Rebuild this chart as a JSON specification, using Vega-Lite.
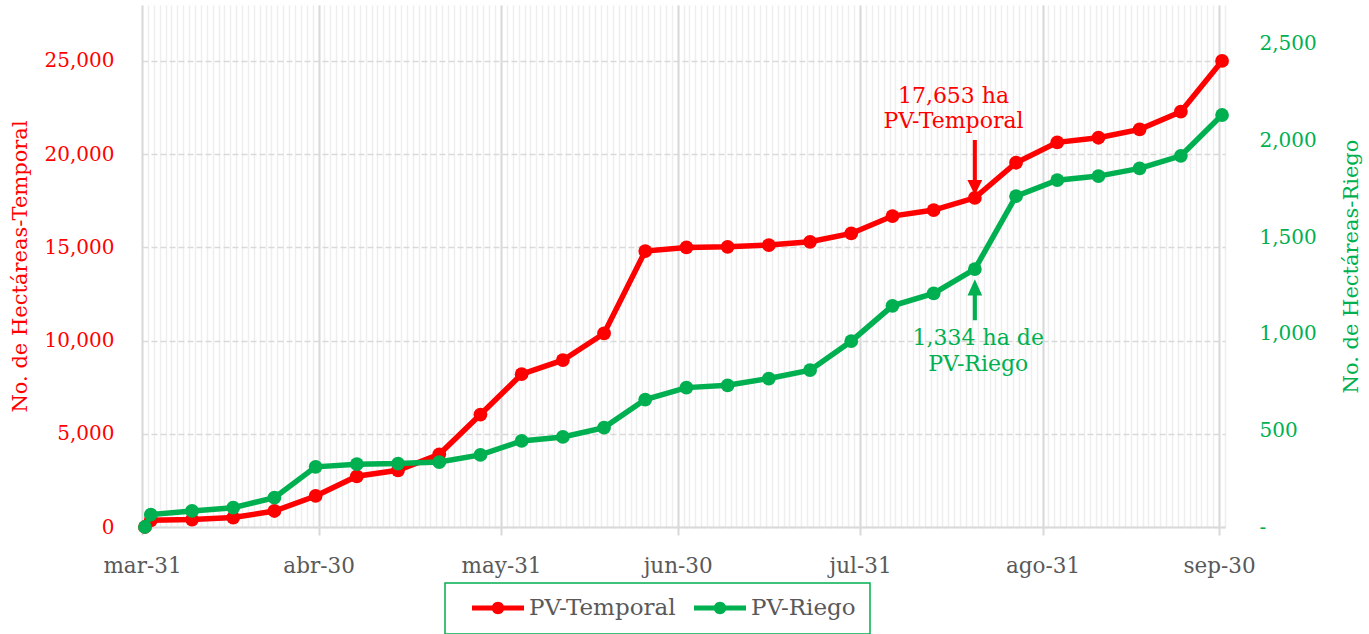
{
  "$schema": "https://vega.github.io/schema/vega-lite/v6.json",
  "width": 1083,
  "height": 522,
  "autosize": {"type": "none"},
  "padding": {"left": 142, "top": 5, "right": 144, "bottom": 107},
  "config": {
    "font": "DejaVu Serif",
    "view": {"stroke": null},
    "legend": {
      "symbolType": "M-1,-0.1 L1,-0.1 L1,0.1 L-1,0.1 Z M-0.24,0 A0.24,0.24 0 1,1 0.24,0 A0.24,0.24 0 1,1 -0.24,0 Z",
      "symbolSize": 2704,
      "symbolStrokeWidth": 0,
      "symbolOpacity": 1,
      "symbolOffset": 13,
      "clipHeight": 22,
      "labelFont": "DejaVu Serif",
      "labelFontSize": 23,
      "labelColor": "#595959",
      "labelOffset": 5,
      "columnPadding": 5,
      "padding": 14,
      "strokeColor": "#00b050",
      "strokeWidth": 1.5
    }
  },
  "data": {
    "values": [
      {"date": "2020-03-31T12:00:00", "temporal": 0, "riego": 0},
      {"date": "2020-04-01T12:00:00", "temporal": 360, "riego": 64},
      {"date": "2020-04-08T12:00:00", "temporal": 397, "riego": 83},
      {"date": "2020-04-15T12:00:00", "temporal": 505, "riego": 100},
      {"date": "2020-04-22T12:00:00", "temporal": 859, "riego": 152},
      {"date": "2020-04-29T12:00:00", "temporal": 1664, "riego": 311},
      {"date": "2020-05-06T12:00:00", "temporal": 2721, "riego": 325},
      {"date": "2020-05-13T12:00:00", "temporal": 3043, "riego": 328},
      {"date": "2020-05-20T12:00:00", "temporal": 3900, "riego": 336},
      {"date": "2020-05-27T12:00:00", "temporal": 6033, "riego": 373},
      {"date": "2020-06-03T12:00:00", "temporal": 8196, "riego": 445},
      {"date": "2020-06-10T12:00:00", "temporal": 8948, "riego": 466},
      {"date": "2020-06-17T12:00:00", "temporal": 10381, "riego": 514},
      {"date": "2020-06-24T12:00:00", "temporal": 14799, "riego": 659},
      {"date": "2020-07-01T12:00:00", "temporal": 14997, "riego": 721},
      {"date": "2020-07-08T12:00:00", "temporal": 15030, "riego": 733},
      {"date": "2020-07-15T12:00:00", "temporal": 15121, "riego": 768},
      {"date": "2020-07-22T12:00:00", "temporal": 15298, "riego": 811},
      {"date": "2020-07-29T12:00:00", "temporal": 15748, "riego": 961},
      {"date": "2020-08-05T12:00:00", "temporal": 16678, "riego": 1144},
      {"date": "2020-08-12T12:00:00", "temporal": 17000, "riego": 1208},
      {"date": "2020-08-19T12:00:00", "temporal": 17653, "riego": 1334},
      {"date": "2020-08-26T12:00:00", "temporal": 19539, "riego": 1711},
      {"date": "2020-09-02T12:00:00", "temporal": 20633, "riego": 1794},
      {"date": "2020-09-09T12:00:00", "temporal": 20880, "riego": 1815},
      {"date": "2020-09-16T12:00:00", "temporal": 21331, "riego": 1855},
      {"date": "2020-09-23T12:00:00", "temporal": 22276, "riego": 1920},
      {"date": "2020-09-30T12:00:00", "temporal": 25000, "riego": 2131}
    ]
  },
  "layer": [
    {
      "mark": {"type": "point", "opacity": 0},
      "encoding": {
        "x": {
          "field": "date", "type": "temporal",
          "scale": {"domain": [{"year": 2020, "month": 3, "date": 31}, {"year": 2020, "month": 10, "date": 1}], "nice": false},
          "axis": {"orient": "bottom", "title": null, "labels": false, "ticks": false, "domain": false, "grid": true, "gridColor": "#eeeeee", "gridWidth": 1.5, "tickCount": {"interval": "day", "step": 1}}
        },
        "y": {
          "field": "temporal", "type": "quantitative",
          "scale": {"domain": [0, 28000], "nice": false},
          "axis": {
            "orient": "left", "title": "No. de Hectáreas-Temporal",
            "values": [0, 5000, 10000, 15000, 20000, 25000], "format": ",d",
            "grid": true, "gridColor": "#d9d9d9", "gridDash": [6, 3], "gridWidth": 1.5,
            "ticks": false, "domain": false,
            "labelColor": "#ff0000", "labelFontSize": 20, "labelPadding": 28,
            "titleColor": "#ff0000", "titleFontSize": 21, "titleFontWeight": "normal", "titlePadding": 14
          }
        }
      }
    },
    {
      "mark": {"type": "line", "color": "#ff0000", "strokeWidth": 5.5},
      "encoding": {
        "x": {
          "field": "date", "type": "temporal",
          "scale": {"domain": [{"year": 2020, "month": 3, "date": 31}, {"year": 2020, "month": 10, "date": 1}], "nice": false},
          "axis": {
            "orient": "bottom",
            "title": null,
            "values": [
              {"year": 2020, "month": 3, "date": 31},
              {"year": 2020, "month": 4, "date": 30},
              {"year": 2020, "month": 5, "date": 31},
              {"year": 2020, "month": 6, "date": 30},
              {"year": 2020, "month": 7, "date": 31},
              {"year": 2020, "month": 8, "date": 31},
              {"year": 2020, "month": 9, "date": 30}
            ],
            "labelExpr": "['ene','feb','mar','abr','may','jun','jul','ago','sep','oct','nov','dic'][month(datum.value)] + '-' + date(datum.value)",
            "labelFlush": false, "labelOverlap": false,
            "grid": true, "gridColor": "#d9d9d9", "gridWidth": 2,
            "domainColor": "#d9d9d9", "domainWidth": 2,
            "tickColor": "#d9d9d9", "tickWidth": 2, "tickSize": 8,
            "labelFontSize": 21.5, "labelColor": "#595959", "labelPadding": 20
          }
        },
        "y": {"field": "temporal", "type": "quantitative", "scale": {"domain": [0, 28000], "nice": false}, "axis": null}
      }
    },
    {
      "mark": {"type": "circle", "size": 190, "opacity": 1},
      "encoding": {
        "x": {"field": "date", "type": "temporal", "scale": {"domain": [{"year": 2020, "month": 3, "date": 31}, {"year": 2020, "month": 10, "date": 1}], "nice": false}, "axis": null},
        "y": {"field": "temporal", "type": "quantitative", "scale": {"domain": [0, 28000], "nice": false}, "axis": null},
        "color": {
          "datum": "PV-Temporal", "type": "nominal",
          "scale": {"domain": ["PV-Temporal", "PV-Riego"], "range": ["#ff0000", "#00b050"]},
          "legend": {"orient": "none", "legendX": 303, "legendY": 578, "direction": "horizontal", "title": null}
        }
      }
    },
    {
      "mark": {"type": "line", "color": "#00b050", "strokeWidth": 5.5},
      "encoding": {
        "x": {"field": "date", "type": "temporal", "scale": {"domain": [{"year": 2020, "month": 3, "date": 31}, {"year": 2020, "month": 10, "date": 1}], "nice": false}, "axis": null},
        "y": {
          "field": "riego", "type": "quantitative",
          "scale": {"domain": [0, 2700], "nice": false},
          "axis": {
            "orient": "right", "title": "No. de Hectáreas-Riego",
            "values": [0, 500, 1000, 1500, 2000, 2500],
            "labelExpr": "datum.value === 0 ? '-' : format(datum.value, ',')",
            "grid": false, "ticks": false, "domain": false,
            "labelColor": "#00b050", "labelFontSize": 20, "labelPadding": 34,
            "titleColor": "#00b050", "titleFontSize": 21, "titleFontWeight": "normal", "titleAngle": 270, "titlePadding": 45
          }
        }
      }
    },
    {
      "mark": {"type": "circle", "size": 190, "opacity": 1},
      "encoding": {
        "x": {"field": "date", "type": "temporal", "scale": {"domain": [{"year": 2020, "month": 3, "date": 31}, {"year": 2020, "month": 10, "date": 1}], "nice": false}, "axis": null},
        "y": {"field": "riego", "type": "quantitative", "scale": {"domain": [0, 2700], "nice": false}, "axis": null},
        "color": {
          "datum": "PV-Riego", "type": "nominal",
          "scale": {"domain": ["PV-Temporal", "PV-Riego"], "range": ["#ff0000", "#00b050"]},
          "legend": {"orient": "none", "legendX": 303, "legendY": 578, "direction": "horizontal", "title": null}
        }
      }
    },
    {
      "data": {"values": [{}]},
      "mark": {"type": "text", "text": ["17,653 ha", "PV-Temporal"], "fontSize": 22, "color": "#ff0000", "align": "center", "baseline": "middle", "lineHeight": 25},
      "encoding": {
        "x": {"datum": {"year": 2020, "month": 8, "date": 15, "hours": 21}, "type": "temporal", "scale": {"domain": [{"year": 2020, "month": 3, "date": 31}, {"year": 2020, "month": 10, "date": 1}], "nice": false}, "axis": null},
        "y": {"datum": 23118, "type": "quantitative", "scale": {"domain": [0, 28000], "nice": false}, "axis": null}
      }
    },
    {
      "data": {"values": [{}]},
      "mark": {"type": "point", "shape": "M-0.073,-1 L0.073,-1 L0.073,0.45 L0.27,0.45 L0,1 L-0.27,0.45 L-0.073,0.45 Z", "filled": true, "size": 3025, "color": "#ff0000", "opacity": 1},
      "encoding": {
        "x": {"datum": {"year": 2020, "month": 8, "date": 19, "hours": 12}, "type": "temporal", "scale": {"domain": [{"year": 2020, "month": 3, "date": 31}, {"year": 2020, "month": 10, "date": 1}], "nice": false}, "axis": null},
        "y": {"datum": 19281, "type": "quantitative", "scale": {"domain": [0, 28000], "nice": false}, "axis": null}
      }
    },
    {
      "data": {"values": [{}]},
      "mark": {"type": "text", "text": ["1,334 ha de", "PV-Riego"], "fontSize": 22, "color": "#00b050", "align": "center", "baseline": "middle", "lineHeight": 26},
      "encoding": {
        "x": {"datum": {"year": 2020, "month": 8, "date": 20, "hours": 2}, "type": "temporal", "scale": {"domain": [{"year": 2020, "month": 3, "date": 31}, {"year": 2020, "month": 10, "date": 1}], "nice": false}, "axis": null},
        "y": {"datum": 977, "type": "quantitative", "scale": {"domain": [0, 2700], "nice": false}, "axis": null}
      }
    },
    {
      "data": {"values": [{}]},
      "mark": {"type": "point", "shape": "M0,-1 L0.356,-0.2 L0.1,-0.2 L0.1,1 L-0.1,1 L-0.1,-0.2 L-0.356,-0.2 Z", "filled": true, "size": 1681, "color": "#00b050", "opacity": 1},
      "encoding": {
        "x": {"datum": {"year": 2020, "month": 8, "date": 19, "hours": 12}, "type": "temporal", "scale": {"domain": [{"year": 2020, "month": 3, "date": 31}, {"year": 2020, "month": 10, "date": 1}], "nice": false}, "axis": null},
        "y": {"datum": 1176, "type": "quantitative", "scale": {"domain": [0, 2700], "nice": false}, "axis": null}
      }
    }
  ],
  "resolve": {"scale": {"y": "independent"}, "axis": {"x": "independent", "y": "independent"}}
}
